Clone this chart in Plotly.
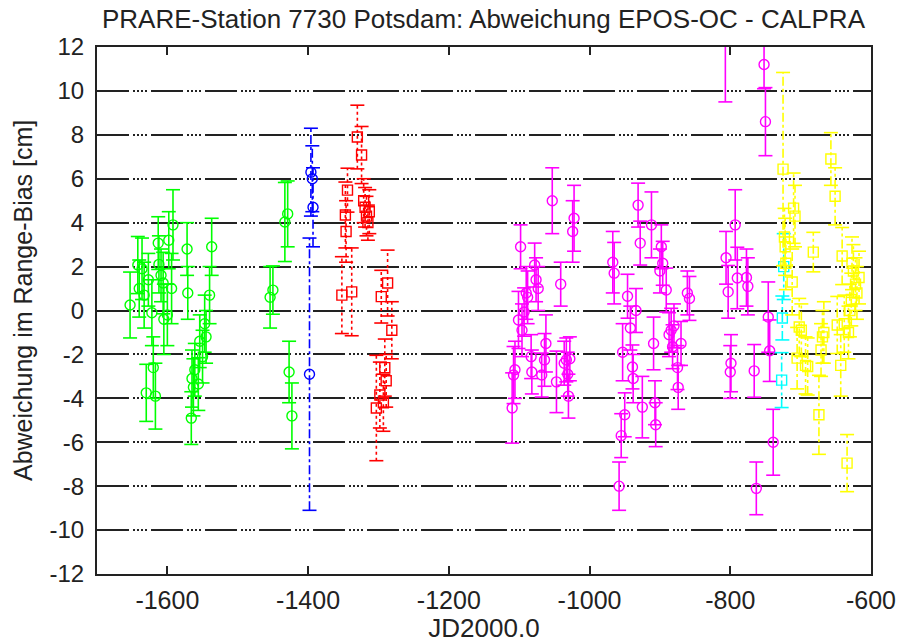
import plotly.graph_objects as go

# ---------------- data ----------------
green_x = [-1653, -1642, -1640, -1636, -1633, -1630, -1627, -1622, -1620, -1617,
           -1613, -1612, -1609, -1606, -1605, -1600, -1598, -1594, -1592, -1572,
           -1571, -1566, -1565, -1563, -1561, -1556, -1554, -1550, -1547, -1545,
           -1540, -1537, -1454, -1450, -1433, -1429, -1427, -1423]
green_y = [0.25, 2.07, 1.0, 1.9, 0.7, -3.75, 1.4, -0.1, -2.6, -3.9,
           3.07, 2.1, 1.6, 1.25, -0.4, -0.2, 3.2, 1.0, 3.9, 2.8,
           0.8, -4.9, -3.1, -3.5, -2.7, -3.35, -1.4, -2.1, -0.6, -1.2,
           0.7, 2.9, 0.6, 0.93, 4.03, 4.4, -2.8, -4.8]
green_err = [1.5, 1.3, 1.3, 1.4, 1.5, 1.3, 1.2, 1.5, 1.4, 1.5,
             1.2, 1.3, 1.2, 1.4, 1.6, 1.4, 1.3, 1.6, 1.6, 1.2,
             1.2, 1.2, 1.3, 1.3, 1.2, 1.2, 1.2, 1.2, 1.3, 1.2,
             1.3, 1.3, 1.4, 1.1, 1.8, 1.5, 1.4, 1.5]

blue_x = [-1398, -1396, -1394, -1393]
blue_y = [-2.9, 6.3, 6.0, 4.7]
blue_err = [6.2, 2.0, 1.5, 1.8]

red_x = [-1352, -1347, -1346, -1344, -1338, -1330, -1324, -1321, -1319, -1317,
         -1315, -1313, -1303, -1298, -1296, -1293, -1291, -1289, -1287, -1281]
red_y = [0.7, 4.35, 3.6, 5.48, 0.85, 7.9, 7.08, 5.0, 4.7, 4.3,
         4.0, 4.5, -4.44, -3.85, 0.63, -4.2, -2.6, -3.2, 1.25, -0.9]
red_err = [1.75, 1.5, 1.4, 1.0, 2.0, 1.45, 1.3, 1.0, 0.9, 0.9,
           0.8, 1.0, 2.4, 1.5, 1.2, 1.3, 1.3, 1.2, 1.5, 1.3]

magenta_x = [-1110, -1108, -1106, -1101, -1098, -1096, -1093, -1090, -1088, -1083,
             -1082, -1078, -1076, -1073, -1068, -1064, -1062, -1053, -1047, -1041,
             -1036, -1033, -1031, -1030, -1028, -1022, -1024, -967, -965, -958,
             -955, -953, -950, -946, -942, -939, -938, -934, -931, -928,
             -925, -912, -909, -907, -906, -898, -896, -900, -891, -887,
             -884, -882, -880, -875, -874, -870, -861, -858, -806, -803,
             -799, -800, -793, -790, -777, -775, -766, -763, -807, -752,
             -750, -746, -744, -739]
magenta_y = [-4.44, -2.94, -2.7, -0.43, 2.9, -0.9, -0.07, 0.8, 0.6, -2.1,
             -2.8, 2.07, 1.4, 1.0, -2.94, -2.25, -1.5, 5.0, -3.25, 1.2,
             -2.4, -2.25, -2.9, -3.9, -2.2, 4.2, 3.6, 2.2, 1.7, -8.0,
             -5.7, -1.9, -4.75, 0.65, -0.8, -2.57, -3.1, 0.0, 4.8, 3.07,
             -4.4, 3.9, -1.5, -4.2, -5.2, 2.9, 2.15, 1.8, 0.93, -1.1,
             -0.9, -1.65, -0.7, -2.6, -3.5, -1.5, 0.8, 0.55, 2.4, 0.85,
             -2.4, -2.8, 3.9, 1.48, 1.5, 1.1, -2.75, -8.1, 12.4, 11.2,
             8.6, -0.3, -1.83, -6.0]
magenta_err = [1.6, 1.3, 1.3, 1.3, 1.0, 1.2, 1.1, 1.2, 1.2, 1.0,
               1.0, 1.0, 1.0, 1.0, 1.0, 1.2, 1.3, 1.5, 1.4, 1.0,
               1.0, 1.0, 1.0, 1.0, 1.0, 1.5, 1.4, 1.4, 1.4, 1.1,
               1.0, 1.3, 1.0, 1.0, 1.0, 1.0, 1.1, 1.0, 1.0, 1.0,
               1.4, 1.5, 1.2, 1.0, 1.0, 1.0, 1.0, 1.0, 1.0, 1.0,
               1.0, 1.0, 1.0, 1.0, 1.0, 1.0, 1.0, 1.0, 1.2, 1.2,
               1.3, 1.2, 1.6, 1.4, 1.3, 1.3, 1.2, 1.2, 2.9, 1.1,
               1.55, 1.6, 1.4, 1.5]

cyan_x = [-727, -726, -724]
cyan_y = [-3.17, -0.34, 2.0]
cyan_err = [1.25, 1.0, 1.5]

yellow_x = [-725, -723, -722, -721, -712, -710, -708, -705, -702, -699,
            -693, -690, -682, -674, -671, -669, -667, -657, -651, -648,
            -643, -641, -638, -634, -632, -630, -628, -627, -625, -622,
            -620, -617]
yellow_y = [6.44, 3.35, 2.9, 2.15, 1.3, 4.66, 4.3, -2.17, -0.75, -0.9,
            -2.5, -2.55, 2.66, -4.75, -1.8, -1.2, -1.0, 6.9, 5.2, -0.66,
            -2.5, 2.48, -0.6, -6.95, -1.0, 0.0, 0.5, 2.15, 1.8, 1.2,
            0.8, 1.5]
yellow_err = [4.4, 1.3, 1.3, 1.2, 1.5, 1.6, 1.4, 1.4, 1.3, 1.2,
              1.3, 1.3, 0.9, 1.8, 1.2, 1.2, 1.4, 1.2, 1.3, 1.3,
              1.4, 1.3, 1.3, 1.3, 1.2, 1.2, 1.2, 1.2, 1.2, 1.2,
              1.2, 1.2]

x_ticks = [-1600, -1400, -1200, -1000, -800, -600]
y_ticks = [-12, -10, -8, -6, -4, -2, 0, 2, 4, 6, 8, 10, 12]

title_text = "PRARE-Station 7730 Potsdam: Abweichung EPOS-OC - CALPRA"
x_title = "JD2000.0"
y_title = "Abweichung im Range-Bias [cm]"

series = [
    ("green", green_x, green_y, green_err, "#00ff00", "solid", "circle-open"),
    ("blue", blue_x, blue_y, blue_err, "#0000ff", "dashdot", "circle-open"),
    ("red", red_x, red_y, red_err, "#ff0000", "dot", "square-open"),
    ("magenta", magenta_x, magenta_y, magenta_err, "#ff00ff", "solid", "circle-open"),
    ("cyan", cyan_x, cyan_y, cyan_err, "#00ffff", "dashdot", "square-open"),
    ("yellow", yellow_x, yellow_y, yellow_err, "#ffff00", "dashdot", "square-open"),
]

fig = go.Figure()
for name, xs, ys, es, col, dash, sym in series:
    sx, sy = [], []
    cx, cy = [], []
    for x, y, e in zip(xs, ys, es):
        sx += [x, x, None]
        sy += [y - e, y + e, None]
        cx += [x, x]
        cy += [y - e, y + e]
    fig.add_trace(go.Scatter(x=sx, y=sy, mode="lines",
                             line=dict(color=col, width=1.6, dash=dash),
                             hoverinfo="skip", showlegend=False))
    fig.add_trace(go.Scatter(x=cx, y=cy, mode="markers",
                             marker=dict(symbol="line-ew", size=10,
                                         line=dict(color=col, width=1.6)),
                             hoverinfo="skip", showlegend=False))
    fig.add_trace(go.Scatter(x=xs, y=ys, mode="markers", name=name,
                             marker=dict(symbol=sym, size=10, color=col,
                                         line=dict(color=col, width=1.4)),
                             showlegend=False))

font = dict(family="Liberation Sans, Arial, sans-serif", size=25, color="#222222")
grid_dash = "32px,4px,2px,2px,2px,2px,2px,2px,2px,4px"

fig.update_layout(
    width=901, height=643,
    margin=dict(l=97, r=30, t=47, b=69, autoexpand=False),
    paper_bgcolor="white", plot_bgcolor="white",
    font=font,
    title=dict(text=title_text,
               x=0.5366, xanchor="center", y=0.9705, yanchor="middle",
               font=dict(size=26), automargin=False),
    annotations=[dict(text=y_title, textangle=-90, showarrow=False,
                      xref="paper", yref="paper", x=-0.0956, y=0.518,
                      xanchor="center", yanchor="middle",
                      font=dict(size=25))],
)
fig.update_xaxes(range=[-1700, -600], tickvals=x_ticks,
                 ticktext=[str(v) for v in x_ticks],
                 showgrid=False, zeroline=False, automargin=False,
                 showline=True, linecolor="#222222", linewidth=2, mirror="ticks",
                 ticks="inside", ticklen=8, tickwidth=2, tickcolor="#222222",
                 ticklabelstandoff=3,
                 title=dict(text=x_title, standoff=2, font=dict(size=26)))
fig.update_yaxes(range=[-12, 12], tickvals=y_ticks,
                 ticktext=[str(v) for v in y_ticks],
                 showgrid=True, gridcolor="#222222", gridwidth=2, griddash=grid_dash,
                 zeroline=False, automargin=False,
                 showline=True, linecolor="#222222", linewidth=2, mirror=True,
                 ticks="", ticklabelstandoff=6, tickfont=dict(size=24))

# remove the page's default body margin so the figure sits at the window origin
fig.write_html("out.html", config={"displayModeBar": False},
               post_script="document.body.style.margin='0px';")
